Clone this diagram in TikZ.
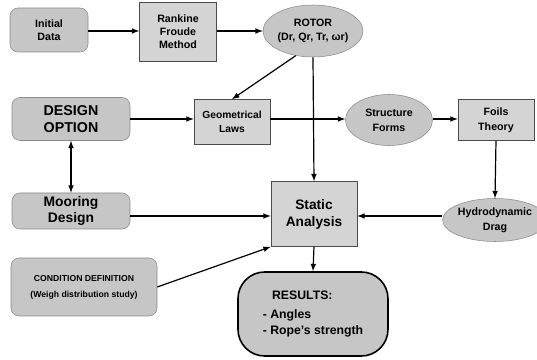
\documentclass[tikz,border=0pt]{standalone}
\usepackage{fontspec}
\setmainfont{Liberation Sans}
\usetikzlibrary{shapes.geometric}
\definecolor{boxgray}{HTML}{C6C6C6}
\definecolor{rectgray}{HTML}{D4D4D4}
\definecolor{edgegray}{HTML}{8A8A8A}
\begin{document}
\begin{tikzpicture}[x=0.75pt, y=-0.75pt, >=latex,
  every node/.style={font=\bfseries, align=center, inner sep=0pt},
  roundbox/.style={draw=edgegray, fill=boxgray, rounded corners=6pt},
  rectbox/.style={draw=black!70, fill=rectgray},
  ovalbox/.style={ellipse, draw=edgegray, fill=boxgray},
  link/.style={->, line width=0.9pt}]
  \useasboundingbox (0,0) rectangle (537,360);
  % input boxes on the left
  \node[roundbox, minimum width=58.5pt, minimum height=33pt,
        font=\bfseries\fontsize{8}{9.75}\selectfont] (init) at (49,30) {Initial\\Data};
  \node[roundbox, minimum width=88.5pt, minimum height=32.25pt,
        font=\bfseries\fontsize{10.7}{12.75}\selectfont] (design) at (71,119) {DESIGN\\OPTION};
  \node[roundbox, minimum width=88.5pt, minimum height=27pt,
        font=\bfseries\fontsize{10.4}{12}\selectfont] (mooring) at (71,211) {Mooring\\Design};
  \node[roundbox, minimum width=109.5pt, minimum height=43.5pt,
        font=\bfseries\fontsize{6.5}{12}\selectfont] (cond) at (84,287) {CONDITION DEFINITION\\(Weigh distribution study)};
  % method boxes
  \node[rectbox, minimum width=57.75pt, minimum height=44.25pt,
        font=\bfseries\fontsize{8}{9.75}\selectfont] (rankine) at (178,32) {Rankine\\Froude\\Method};
  \node[rectbox, minimum width=57pt, minimum height=33.75pt,
        font=\bfseries\fontsize{7.7}{10.5}\selectfont] (geom) at (232,122) {Geometrical\\Laws};
  \node[rectbox, minimum width=57pt, minimum height=30.75pt,
        font=\bfseries\fontsize{8}{11}\selectfont] (foils) at (496,120) {Foils\\Theory};
  \node[rectbox, minimum width=64.5pt, minimum height=48.75pt,
        font=\bfseries\fontsize{10.3}{12.75}\selectfont] (static) at (314,214) {Static\\Analysis};
  % ellipses
  \node[ovalbox, minimum width=65.25pt, minimum height=39pt,
        font=\bfseries\fontsize{8}{11}\selectfont] (rotor) at (313,31) {ROTOR\\(Dr, Qr, Tr, ωr)};
  \node[ovalbox, minimum width=65.25pt, minimum height=38.25pt,
        font=\bfseries\fontsize{8}{11}\selectfont] (struct) at (389,120) {Structure\\Forms};
  \node[ovalbox, minimum width=63pt, minimum height=32.25pt,
        font=\bfseries\fontsize{8}{11}\selectfont] (hydro) at (495,220) {Hydrodynamic\\Drag};
  % results
  \node[draw=black, line width=1.2pt, fill=boxgray, rounded corners=20pt,
        minimum width=112.5pt, minimum height=63pt, align=left,
        font=\bfseries\fontsize{9.2}{11.5}\selectfont] (results) at (313,314)
        {\hspace{7pt}RESULTS:\\[3pt]- Angles\\- Rope's strength};
  % arrows
  \draw[link] (init.east |- 0,31) -- (rankine.west |- 0,31);
  \draw[link] (rankine.east |- 0,31) -- (rotor.west);
  \draw[link] (rotor.235) -- (geom.north);
  \draw[link] (rotor.south) -- (static.north);
  \draw[link] (design.east |- 0,119) -- (geom.west |- 0,119);
  \draw[link] (geom.east |- 0,119) -- (struct.west |- 0,119);
  \draw[link] (struct.east |- 0,119) -- (foils.west |- 0,119);
  \draw[link] (foils.south) -- (hydro.north);
  \draw[link] (hydro.west |- 0,216) -- (static.east |- 0,216);
  \draw[link] (mooring.east |- 0,216) -- (static.west |- 0,216);
  \draw[link] (cond.east) -- (static.south west);
  \draw[<->, line width=0.9pt] (design.south) -- (mooring.north);
  \draw[link] (static.south) -- (results.north);
\end{tikzpicture}
\end{document}
